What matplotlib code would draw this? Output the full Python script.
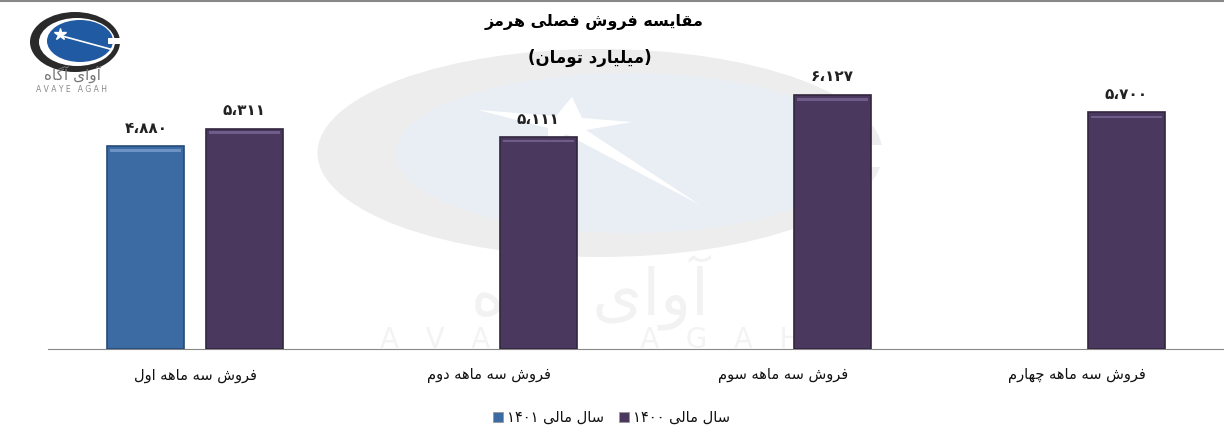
import matplotlib.pyplot as plt
from matplotlib.patches import Ellipse, Rectangle, Polygon
import numpy as np

# data
categories = ['فروش سه ماهه اول', 'فروش سه ماهه دوم', 'فروش سه ماهه سوم', 'فروش سه ماهه چهارم']
sales_1401 = [4880, None, None, None]
sales_1400 = [5311, 5111, 6127, 5700]
series_names = ['سال مالی ۱۴۰۱', 'سال مالی ۱۴۰۰']
title = 'مقایسه فروش فصلی هرمز'
subtitle = '(میلیارد تومان)'

# minimal persian shaping (no reshaper lib available)
FORMS = {
    'ا': ('\uFE8D', '\uFE8E', None, None), 'آ': ('\uFE81', '\uFE82', None, None),
    'د': ('\uFEA9', '\uFEAA', None, None), 'ر': ('\uFEAD', '\uFEAE', None, None),
    'ز': ('\uFEAF', '\uFEB0', None, None), 'و': ('\uFEED', '\uFEEE', None, None),
    'ب': ('\uFE8F', '\uFE90', '\uFE91', '\uFE92'), 'ت': ('\uFE95', '\uFE96', '\uFE97', '\uFE98'),
    'چ': ('\uFB7A', '\uFB7B', '\uFB7C', '\uFB7D'), 'س': ('\uFEB1', '\uFEB2', '\uFEB3', '\uFEB4'),
    'ش': ('\uFEB5', '\uFEB6', '\uFEB7', '\uFEB8'), 'ص': ('\uFEB9', '\uFEBA', '\uFEBB', '\uFEBC'),
    'ف': ('\uFED1', '\uFED2', '\uFED3', '\uFED4'), 'ق': ('\uFED5', '\uFED6', '\uFED7', '\uFED8'),
    'ل': ('\uFEDD', '\uFEDE', '\uFEDF', '\uFEE0'), 'م': ('\uFEE1', '\uFEE2', '\uFEE3', '\uFEE4'),
    'ن': ('\uFEE5', '\uFEE6', '\uFEE7', '\uFEE8'), 'ه': ('\uFEE9', '\uFEEA', '\uFEEB', '\uFEEC'),
    'ی': ('\uFEEF', '\uFEF0', '\uFEF3', '\uFEF4'), 'گ': ('\uFB92', '\uFB93', '\uFB94', '\uFB95'),
}


def dual(c):
    return c in FORMS and FORMS[c][2] is not None


def fa(text):
    out = []
    for i, c in enumerate(text):
        if c not in FORMS:
            out.append(c)
            continue
        prev = text[i - 1] if i > 0 else ''
        nxt = text[i + 1] if i + 1 < len(text) else ''
        jp = dual(prev)
        jn = dual(c) and nxt in FORMS
        iso, fin, ini, med = FORMS[c]
        if jp and jn:
            out.append(med)
        elif jp:
            out.append(fin)
        elif jn:
            out.append(ini)
        else:
            out.append(iso)
    # visual order: reverse, keep digit runs LTR
    tokens, run = [], ''
    for c in out:
        if c in '۰۱۲۳۴۵۶۷۸۹،':
            run += c
        else:
            if run:
                tokens.append(run)
                run = ''
            tokens.append(c)
    if run:
        tokens.append(run)
    vis = ''.join(tokens[::-1])
    return vis.translate(str.maketrans('()', ')('))


def fa_num(v):
    s = f'{v:,}'.replace(',', '،')
    return s.translate(str.maketrans('0123456789', '۰۱۲۳۴۵۶۷۸۹'))


plt.rcParams['font.family'] = ['DejaVu Sans']

W, H = 1224, 443
fig = plt.figure(figsize=(W / 100, H / 100), dpi=100)
fig.patch.set_facecolor('white')


def px(x, y):
    return x / W, 1 - y / H


# background watermark
wm = fig.add_axes([0, 0, 1, 1], zorder=0)
wm.set_xlim(0, W)
wm.set_ylim(H, 0)
wm.axis('off')
wm.add_patch(Ellipse((600, 153), 565, 208, color='#ededed', lw=0))
wm.add_patch(Ellipse((628, 153), 465, 160, color='#e9eef5', lw=0))
wm.add_patch(Rectangle((855, 145), 40, 22, color='white', lw=0))
wm.add_patch(Polygon([[478, 110], [556, 116], [572, 97], [582, 118], [632, 122], [586, 130],
                      [700, 205], [566, 134], [548, 150], [548, 128]], color='white', lw=0))
wm.text(590, 292, fa('آوای آگاه'), fontsize=46, color='#f2f2f2', ha='center', va='center')
wm.text(590, 340, 'A   V   A   Y   E       A   G   A   H', fontsize=20, color='#f3f3f3',
        ha='center', va='center')
wm.plot([0, W], [0.8, 0.8], color='#888888', lw=1.5)

# logo
wm.add_patch(Ellipse((75, 42), 90, 60, color='#2a2a2a', lw=0))
wm.add_patch(Ellipse((77, 42), 76, 48, color='white', lw=0))
wm.add_patch(Ellipse((80, 41), 66, 42, color='#1f5aa3', lw=0))
wm.add_patch(Rectangle((108, 38), 14, 6, color='white', lw=0))
wm.plot([62, 110], [36, 49], color='white', lw=1.2)
wm.plot(60, 34, marker='*', color='white', ms=9)
wm.text(73, 74, fa('آوای آگاه'), fontsize=11, color='#777777', ha='center', va='center')
wm.text(72, 89, 'A V A Y E   A G A H', fontsize=5.5, color='#888888', ha='center', va='center')

# main axes
top_px, bot_px, left_px = 58, 349, 48
ax = fig.add_axes([left_px / W, 1 - bot_px / H, 1 - left_px / W, (bot_px - top_px) / H], zorder=2)
ax.patch.set_alpha(0)
x = np.arange(len(categories))
bw = 0.262
off = 0.167
colors = {'1401': '#3c6aa3', '1400': '#4a385f'}


def bevel_bar(xc, val, color, dark, light):
    ax.bar(xc, val, bw, color=color, edgecolor=dark, lw=1.2, zorder=3)
    ax.bar(xc, val * 0.012, bw * 0.92, bottom=val * 0.975, color=light, lw=0, zorder=4)


for i in range(len(categories)):
    if sales_1401[i] is not None:
        bevel_bar(x[i] - off, sales_1401[i], colors['1401'], '#244a78', '#6d93c4')
        ax.text(x[i] - off, sales_1401[i] + 250, fa_num(sales_1401[i]), ha='center', va='bottom',
                fontsize=11, fontweight='bold', color='#222222')
    bevel_bar(x[i] + off, sales_1400[i], colors['1400'], '#33263f', '#6f5c88')
    ax.text(x[i] + off, sales_1400[i] + 250, fa_num(sales_1400[i]), ha='center', va='bottom',
            fontsize=11, fontweight='bold', color='#222222')

ax.set_xlim(-0.5, len(categories) - 0.5)
ax.set_ylim(0, (bot_px - top_px) / 0.0415)
for s in ['top', 'right', 'left']:
    ax.spines[s].set_visible(False)
ax.spines['bottom'].set_color('#888888')
ax.set_yticks([])
ax.set_xticks(x)
ax.set_xticklabels([fa(c) for c in categories], fontsize=10.5, color='#111111')
ax.tick_params(axis='x', length=0, pad=14)

# titles
fig.text(*px(594, 22), fa(title), ha='center', va='center', fontsize=11.5, fontweight='bold')
fig.text(*px(590, 58), fa(subtitle), ha='center', va='center', fontsize=12, fontweight='bold')

# legend (drawn manually to keep RTL layout)
for name, col, xm in [(series_names[0], colors['1401'], 498), (series_names[1], colors['1400'], 624)]:
    wm.add_patch(Rectangle((xm - 5, 412), 10, 10, facecolor=col, edgecolor='#999999', lw=0.6))
    wm.text(xm + 9, 417, fa(name), ha='left', va='center', fontsize=10.5, color='#111111')

fig.savefig('out.png', dpi=100)
